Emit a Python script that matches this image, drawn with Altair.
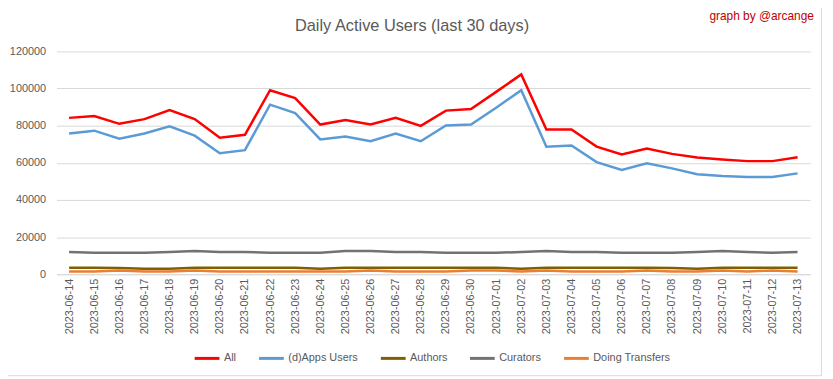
import altair as alt
import pandas as pd

dates = [
    "2023-06-14", "2023-06-15", "2023-06-16", "2023-06-17", "2023-06-18",
    "2023-06-19", "2023-06-20", "2023-06-21", "2023-06-22", "2023-06-23",
    "2023-06-24", "2023-06-25", "2023-06-26", "2023-06-27", "2023-06-28",
    "2023-06-29", "2023-06-30", "2023-07-01", "2023-07-02", "2023-07-03",
    "2023-07-04", "2023-07-05", "2023-07-06", "2023-07-07", "2023-07-08",
    "2023-07-09", "2023-07-10", "2023-07-11", "2023-07-12", "2023-07-13",
]

all_users = [84200, 85200, 81000, 83500, 88400, 83600, 73500, 75100, 99100, 94800,
             80600, 83100, 80600, 84200, 79900, 88100, 89000, 98200, 107600, 77900,
             77900, 68700, 64500, 67700, 64800, 62900, 61800, 60900, 60900, 63000]

dapps_users = [75800, 77300, 73000, 75800, 79600, 74600, 65200, 66800, 91300, 86800,
               72600, 74100, 71600, 75800, 71600, 80100, 80600, 89700, 99100, 68700,
               69300, 60400, 56100, 59700, 57000, 53800, 52900, 52400, 52400, 54300]

authors = [3500, 3500, 3400, 3000, 3000, 3500, 3500, 3500, 3500, 3500,
           3000, 3500, 3500, 3500, 3500, 3500, 3500, 3500, 3000, 3500,
           3500, 3500, 3500, 3500, 3400, 3000, 3500, 3500, 3500, 3500]

curators = [12000, 11500, 11500, 11500, 12000, 12500, 12000, 12000, 11500, 11500,
            11500, 12500, 12500, 12000, 12000, 11500, 11500, 11500, 12000, 12500,
            12000, 12000, 11500, 11500, 11500, 12000, 12500, 12000, 11500, 12000]

transfers = [1500, 1500, 2000, 1500, 1500, 2000, 1500, 1500, 1500, 1500,
             1500, 1500, 2000, 1500, 1500, 1500, 2000, 2000, 1500, 2000,
             1500, 1500, 1500, 2000, 1500, 1500, 2000, 1500, 2000, 1500]

series_names = ["All", "(d)Apps Users", "Authors", "Curators", "Doing Transfers"]
series_colors = ["#FF0000", "#5B9BD5", "#7F6000", "#767171", "#ED7D31"]
series_values = [all_users, dapps_users, authors, curators, transfers]

y_ticks = [0, 20000, 40000, 60000, 80000, 100000, 120000]

title_text = "Daily Active Users (last 30 days)"
credit_text = "graph by @arcange"

rows = []
for name, vals in zip(series_names, series_values):
    for d, v in zip(dates, vals):
        rows.append({"date": d, "value": v, "series": name})
df = pd.DataFrame(rows)

FONT = "Liberation Sans, Arial, sans-serif"
GRID = "#D9D9D9"
TXT = "#595959"

lines = alt.Chart(df).mark_line(strokeWidth=2.5).encode(
    x=alt.X("date:O", sort=dates, scale=alt.Scale(padding=0.5),
            axis=alt.Axis(title=None, labelAngle=-90, ticks=False, labelPadding=4,
                          domain=True, domainColor=GRID, grid=False,
                          labelColor=TXT, labelFontSize=11, labelFont=FONT)),
    y=alt.Y("value:Q", scale=alt.Scale(domain=[0, 120000], nice=False),
            axis=alt.Axis(title=None, values=y_ticks, ticks=False, domain=False,
                          labelPadding=11, gridColor=GRID, gridWidth=1,
                          labelColor=TXT, labelFontSize=11, labelFont=FONT,
                          format="d")),
    color=alt.Color("series:N", sort=series_names,
                    scale=alt.Scale(domain=series_names, range=series_colors),
                    legend=alt.Legend(title=None, orient="none", direction="horizontal",
                                      legendX=138, legendY=296, symbolType="stroke",
                                      symbolSize=625, symbolStrokeWidth=3,
                                      labelOffset=3, columnPadding=16, padding=0,
                                      labelColor=TXT, labelFontSize=11, labelFont=FONT)),
    order=alt.Order("series:N"),
)

title = alt.Chart(pd.DataFrame({"t": [title_text]})).mark_text(
    font=FONT, fontSize=16.5, color=TXT, align="center", baseline="alphabetic"
).encode(text="t:N", x=alt.value(359), y=alt.value(-21))

credit = alt.Chart(pd.DataFrame({"t": [credit_text]})).mark_text(
    font=FONT, fontSize=12, color="#C00000", align="center", baseline="alphabetic"
).encode(text="t:N", x=alt.value(712), y=alt.value(-32))

# chart-area frame (right and bottom edges visible inside the page)
frame_right = alt.Chart(pd.DataFrame({"k": [0]})).mark_rule(color=GRID, strokeWidth=1).encode(
    x=alt.value(772.5), y=alt.value(-49), y2=alt.value(327.5))
frame_bottom = alt.Chart(pd.DataFrame({"k": [0]})).mark_rule(color=GRID, strokeWidth=1).encode(
    x=alt.value(-49), x2=alt.value(772.5), y=alt.value(327.5))

chart = alt.layer(frame_right, frame_bottom, lines, title, credit).properties(
    width=761, height=225,
    autosize=alt.AutoSizeParams(type="none"),
    padding={"left": 49, "top": 42, "right": 15, "bottom": 104},
    background="white",
).configure_view(stroke=None)

chart.save("out.html", embed_options={"renderer": "svg", "actions": False})
